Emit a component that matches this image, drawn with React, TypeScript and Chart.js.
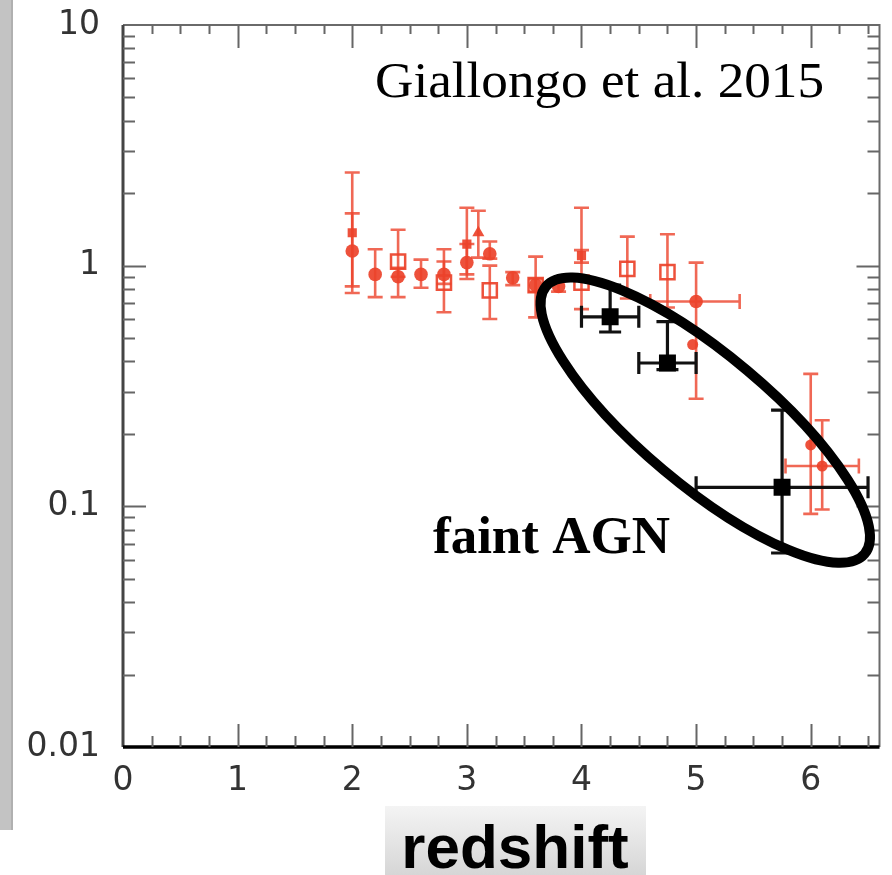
import React, { useEffect, useRef } from "react";
import { Chart, registerables } from "chart.js";

Chart.register(...registerables);

// ---------- axis definitions ----------
const X_MIN = 0;
const X_MAX = 6.6;
const X_TICKS = [0, 1, 2, 3, 4, 5, 6];
const Y_MIN = 0.01;
const Y_MAX = 10;
const Y_TICKS = [0.01, 0.1, 1, 10];
const Y_TICK_LABELS = ["0.01", "0.1", "1", "10"];

// ---------- data: [redshift, value, low, high, zLow, zHigh] ----------
const RED_CIRCLES = [
  [2.0, 1.15, 0.82, 1.65],
  [2.2, 0.92, 0.74, 1.17],
  [2.4, 0.9, 0.74, 0.98],
  [2.6, 0.92, 0.81, 1.06],
  [2.8, 0.92, 0.84, 1.04],
  [3.0, 1.03, 0.92, 1.23],
  [3.2, 1.12, 1.07, 1.26],
  [3.4, 0.89, 0.83, 0.94],
  [3.6, 0.83, 0.78, 0.88],
  [3.8, 0.82, 0.78, 0.86],
  [5.0, 0.71, 0.28, 1.03, 4.6, 5.38],
];
const RED_SMALL_CIRCLES = [
  [4.97, 0.47, null, null],
  [6.0, 0.18, 0.093, 0.355],
  [6.1, 0.147, 0.097, 0.228, 5.78, 6.42],
];
const RED_FILLED_SQUARES = [
  [2.0, 1.37, 0.77, 2.44],
  [3.0, 1.23, 0.88, 1.74],
  [4.0, 1.1, 1.03, 1.74],
];
const RED_TRIANGLES = [[3.1, 1.37, 1.08, 1.69]];
const RED_OPEN_SQUARES = [
  [2.4, 1.04, 0.9, 1.41],
  [2.8, 0.85, 0.64, 1.17],
  [3.2, 0.79, 0.6, 1.0],
  [3.6, 0.83, 0.61, 1.09],
  [4.0, 0.85, 0.66, 1.16],
  [4.4, 0.97, 0.73, 1.32],
  [4.75, 0.94, 0.67, 1.35],
];
const BLACK_SQUARES = [
  [4.25, 0.613, 0.53, 0.83, 4.0, 4.5],
  [4.75, 0.394, 0.37, 0.585, 4.5, 5.0],
  [5.75, 0.12, 0.064, 0.251, 5.0, 6.5],
];

// annotation ellipse (centre in data coordinates)
const ELLIPSE_CENTER = [5.08, 0.228];

const TITLE_TEXT = "Giallongo et al. 2015";
const LABEL_TEXT = "faint AGN";
const X_TITLE = "redshift";

const RED = "rgba(236,66,42,0.92)";
const RED_BAR = "rgba(236,66,42,0.8)";
const BLACK = "#000";

const decorPlugin = {
  id: "decor",
  beforeDraw(chart: any) {
    const { ctx, width, height } = chart;
    ctx.save();
    ctx.fillStyle = "#fff";
    ctx.fillRect(0, 0, width, height);
    // slide grey strip on the left
    ctx.fillStyle = "#c3c3c3";
    ctx.fillRect(0, 0, 13, 830);
    ctx.fillStyle = "#b0b0b0";
    ctx.fillRect(11, 0, 2, 830);
    // x-title box
    const g = ctx.createLinearGradient(0, 806, 0, 875);
    g.addColorStop(0, "#f4f4f4");
    g.addColorStop(1, "#d6d6d6");
    ctx.fillStyle = g;
    ctx.fillRect(385, 806, 261, 69);
    ctx.restore();
  },
  beforeDatasetsDraw(chart: any) {
    const { ctx } = chart;
    const xs = chart.scales.x;
    const ys = chart.scales.y;
    ctx.save();
    chart.data.datasets.forEach((ds: any) => {
      const rows = ds.errRows || [];
      ctx.strokeStyle = ds.errColor;
      ctx.lineWidth = ds.errWidth;
      const cap = ds.capHalf;
      rows.forEach((r: any[]) => {
        const px = xs.getPixelForValue(r[0]);
        const py = ys.getPixelForValue(r[1]);
        ctx.beginPath();
        if (r[2] != null && r[3] != null) {
          const lo = ys.getPixelForValue(r[2]);
          const hi = ys.getPixelForValue(r[3]);
          ctx.moveTo(px, lo);
          ctx.lineTo(px, hi);
          ctx.moveTo(px - cap, lo);
          ctx.lineTo(px + cap, lo);
          ctx.moveTo(px - cap, hi);
          ctx.lineTo(px + cap, hi);
        }
        if (r[4] != null && r[5] != null) {
          const l = xs.getPixelForValue(r[4]);
          const h = xs.getPixelForValue(r[5]);
          ctx.moveTo(l, py);
          ctx.lineTo(h, py);
          ctx.moveTo(l, py - cap);
          ctx.lineTo(l, py + cap);
          ctx.moveTo(h, py - cap);
          ctx.lineTo(h, py + cap);
        }
        ctx.stroke();
      });
    });
    ctx.restore();
  },
  afterDraw(chart: any) {
    const { ctx, chartArea: ca } = chart;
    const xs = chart.scales.x;
    const ys = chart.scales.y;
    ctx.save();
    // frame
    ctx.strokeStyle = "#6a6a6a";
    ctx.lineWidth = 2;
    ctx.beginPath();
    ctx.moveTo(ca.left, ca.top);
    ctx.lineTo(ca.right, ca.top);
    ctx.lineTo(ca.right, ca.bottom);
    ctx.stroke();
    ctx.strokeStyle = "#444";
    ctx.lineWidth = 3;
    ctx.beginPath();
    ctx.moveTo(ca.left, ca.top);
    ctx.lineTo(ca.left, ca.bottom);
    ctx.stroke();
    ctx.strokeStyle = "#000";
    ctx.lineWidth = 3.5;
    ctx.beginPath();
    ctx.moveTo(ca.left, ca.bottom);
    ctx.lineTo(ca.right, ca.bottom);
    ctx.stroke();

    // ticks (inward)
    ctx.strokeStyle = "#666";
    ctx.lineWidth = 2;
    ctx.beginPath();
    for (let i = 1; X_MIN + i * 0.25 < X_MAX; i++) {
      const v = X_MIN + i * 0.25;
      const major = Math.abs(v - Math.round(v)) < 1e-6;
      const len = major ? 23 : 11;
      const px = Math.round(xs.getPixelForValue(v)) + 0.5;
      ctx.moveTo(px, ca.bottom);
      ctx.lineTo(px, ca.bottom - len);
      ctx.moveTo(px, ca.top);
      ctx.lineTo(px, ca.top + (major ? 23 : 9));
    }
    for (let d = 0; d < Y_TICKS.length - 1; d++) {
      const dec = Y_TICKS[d];
      for (let k = 1; k < 10; k++) {
        const v = dec * k;
        if (v <= Y_MIN) continue;
        const len = k === 1 ? 23 : 12;
        const py = Math.round(ys.getPixelForValue(v)) + 0.5;
        ctx.moveTo(ca.left, py);
        ctx.lineTo(ca.left + len, py);
        ctx.moveTo(ca.right, py);
        ctx.lineTo(ca.right - len, py);
      }
    }
    ctx.stroke();

    // ellipse annotation
    const cx = xs.getPixelForValue(ELLIPSE_CENTER[0]);
    const cy = ys.getPixelForValue(ELLIPSE_CENTER[1]);
    ctx.strokeStyle = "#000";
    ctx.lineWidth = 10;
    ctx.beginPath();
    ctx.ellipse(cx, cy, 208, 65, (40 * Math.PI) / 180, 0, Math.PI * 2);
    ctx.stroke();

    // texts
    ctx.fillStyle = "#000";
    ctx.textBaseline = "alphabetic";
    ctx.textAlign = "left";
    ctx.font = '51px "Liberation Serif", "Times New Roman", serif';
    const tw = ctx.measureText(TITLE_TEXT).width;
    ctx.save();
    ctx.translate(375, 97);
    ctx.scale(449 / tw, 1);
    ctx.fillText(TITLE_TEXT, 0, 0);
    ctx.restore();

    ctx.font = 'bold 53px "Liberation Serif", "Times New Roman", serif';
    ctx.fillText(LABEL_TEXT, 433, 553);

    ctx.font = 'bold 62px "Liberation Sans", Arial, sans-serif';
    ctx.textAlign = "center";
    ctx.fillText(X_TITLE, 515, 868);
    ctx.restore();
  },
};

const toPts = (rows: any[]) => rows.map((r) => ({ x: r[0], y: r[1] }));

export default function App() {
  const ref = useRef<HTMLCanvasElement>(null);
  useEffect(() => {
    if (!ref.current) return;
    const tickFont = { family: '"DejaVu Sans", Verdana, sans-serif', size: 33 };
    const chart = new Chart(ref.current, {
      type: "scatter",
      data: {
        datasets: [
          {
            data: toPts(RED_OPEN_SQUARES),
            pointStyle: "rect",
            radius: 10,
            backgroundColor: "rgba(0,0,0,0)",
            borderColor: RED,
            borderWidth: 2.5,
            errRows: RED_OPEN_SQUARES,
            errColor: RED_BAR,
            errWidth: 2.6,
            capHalf: 7.5,
          } as any,
          {
            data: toPts(RED_CIRCLES),
            pointStyle: "circle",
            radius: 6.8,
            backgroundColor: RED,
            borderColor: RED,
            borderWidth: 0,
            errRows: RED_CIRCLES,
            errColor: RED_BAR,
            errWidth: 2.6,
            capHalf: 7.5,
          } as any,
          {
            data: toPts(RED_SMALL_CIRCLES),
            pointStyle: "circle",
            radius: 5.5,
            backgroundColor: RED,
            borderColor: RED,
            borderWidth: 0,
            errRows: RED_SMALL_CIRCLES,
            errColor: RED_BAR,
            errWidth: 2.6,
            capHalf: 7.5,
          } as any,
          {
            data: toPts(RED_FILLED_SQUARES),
            pointStyle: "rect",
            radius: 6.5,
            backgroundColor: RED,
            borderColor: RED,
            borderWidth: 0,
            errRows: RED_FILLED_SQUARES,
            errColor: RED_BAR,
            errWidth: 2.6,
            capHalf: 7.5,
          } as any,
          {
            data: toPts(RED_TRIANGLES),
            pointStyle: "triangle",
            radius: 7,
            backgroundColor: RED,
            borderColor: RED,
            borderWidth: 0,
            errRows: RED_TRIANGLES,
            errColor: RED_BAR,
            errWidth: 2.6,
            capHalf: 7.5,
          } as any,
          {
            data: toPts(BLACK_SQUARES),
            pointStyle: "rect",
            radius: 12,
            backgroundColor: BLACK,
            borderColor: BLACK,
            borderWidth: 0,
            errRows: BLACK_SQUARES,
            errColor: "#111",
            errWidth: 3.2,
            capHalf: 11,
          } as any,
        ],
      },
      options: {
        animation: false,
        responsive: false,
        devicePixelRatio: 1,
        layout: { padding: { top: 25, right: 10, left: 0, bottom: 0 } },
        plugins: { legend: { display: false }, tooltip: { enabled: false } },
        events: [],
        scales: {
          x: {
            type: "linear",
            min: X_MIN,
            max: X_MAX,
            grid: { display: false, drawTicks: false },
            border: { display: false },
            ticks: {
              font: tickFont,
              color: "#333",
              padding: 15,
              maxRotation: 0,
              autoSkip: false,
              callback: (v: any) => String(v),
            },
            afterBuildTicks: (s: any) => {
              s.ticks = X_TICKS.map((v) => ({ value: v }));
            },
            afterFit: (s: any) => {
              s.height = 128;
              s.paddingLeft = 0;
              s.paddingRight = 0;
            },
          },
          y: {
            type: "logarithmic",
            min: Y_MIN,
            max: Y_MAX,
            grid: { display: false, drawTicks: false },
            border: { display: false },
            ticks: {
              font: tickFont,
              color: "#333",
              padding: 23,
              autoSkip: false,
              callback: (v: any) => {
                const i = Y_TICKS.findIndex((t) => Math.abs(t - v) / t < 1e-6);
                return i >= 0 ? Y_TICK_LABELS[i] : "";
              },
            },
            afterBuildTicks: (s: any) => {
              s.ticks = Y_TICKS.map((v) => ({ value: v }));
            },
            afterFit: (s: any) => {
              s.width = 123;
              s.paddingTop = 0;
              s.paddingBottom = 0;
            },
          },
        },
      },
      plugins: [decorPlugin],
    });
    return () => chart.destroy();
  }, []);
  return (
    <div style={{ position: "absolute", left: 0, top: 0, width: 892, height: 875 }}>
      <canvas ref={ref} width={892} height={875} style={{ display: "block" }} />
    </div>
  );
}
